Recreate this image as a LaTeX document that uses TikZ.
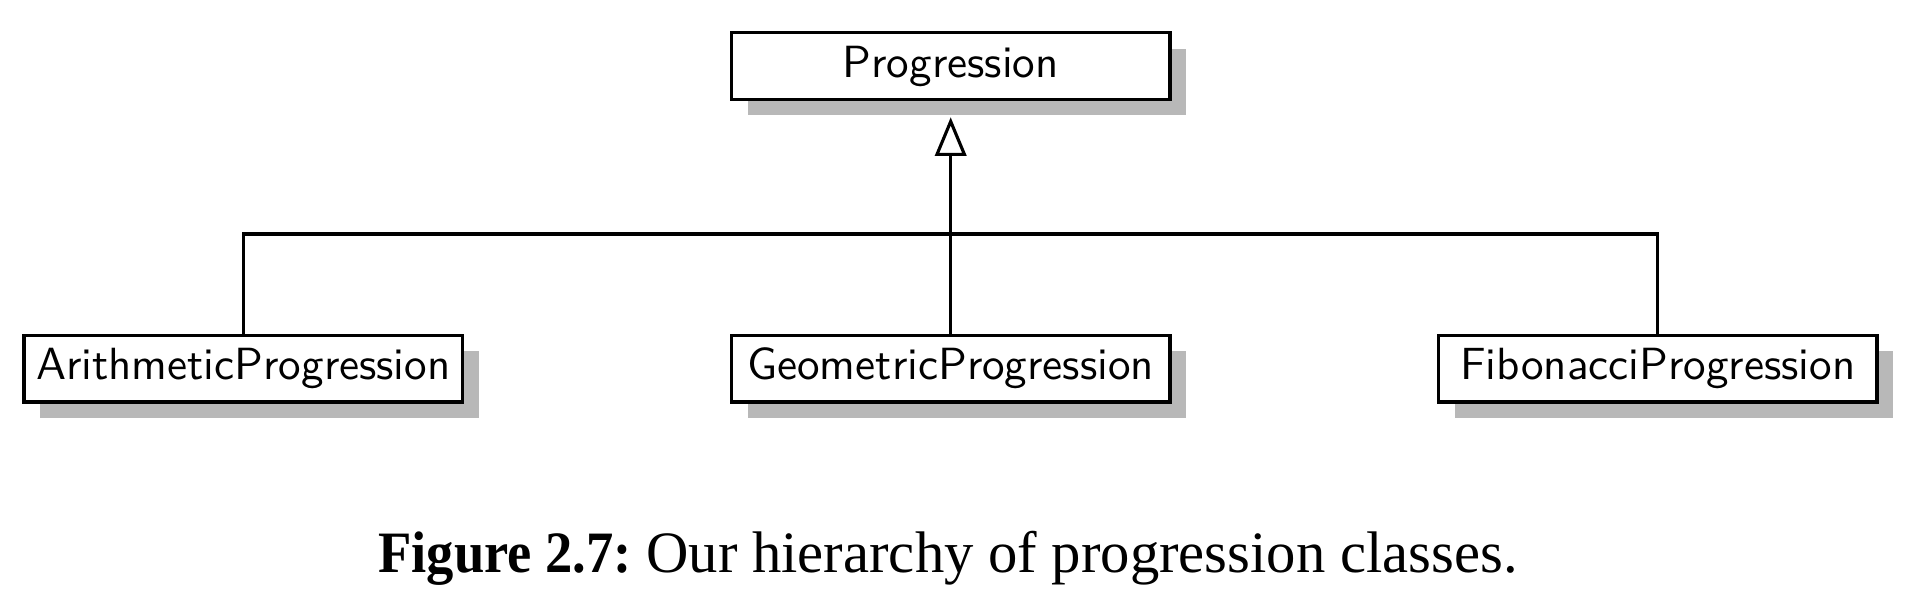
\documentclass[tikz,border=0pt]{standalone}
\usepackage{fontspec}
\newfontfamily\capfont{Liberation Serif}
\usetikzlibrary{shadows,arrows.meta}
\begin{document}
\begin{tikzpicture}[x=0.21739pt,y=-0.21739pt,
  classbox/.style={draw=black, line width=0.72pt, fill=white,
    minimum width=95.3pt, minimum height=14.5pt, inner sep=0pt, outer sep=0pt,
    font=\sffamily\fontsize{9.8}{12}\selectfont,
    drop shadow={shadow xshift=3.5pt, shadow yshift=-3.5pt, fill=black!28, opacity=1}},
  conn/.style={line width=0.68pt, draw=black},
  inherit/.style={conn, -{Triangle[open, length=8.4pt, width=6.8pt]}, shorten >=3.9pt}]
\useasboundingbox (0,0) rectangle (1918,594);
\node[classbox] (prog) at (950.7,66) {Progression};
\node[classbox] (arith) at (243.3,368.7) {ArithmeticProgression};
\node[classbox] (geo) at (950.7,368.7) {GeometricProgression};
\node[classbox] (fib) at (1657.8,368.7) {FibonacciProgression};
\coordinate (bus) at (950.7,234);
\draw[conn] (arith.north) |- (bus) -| (fib.north);
\draw[inherit] (geo.north) -- (prog.south);
\node[font=\capfont\fontsize{12.75}{15}\selectfont, anchor=base] (cap) at (948,572)
  {\scalebox{0.93}[1]{\textbf{Figure 2.7:}} Our hierarchy of progression classes.};
\end{tikzpicture}
\end{document}
